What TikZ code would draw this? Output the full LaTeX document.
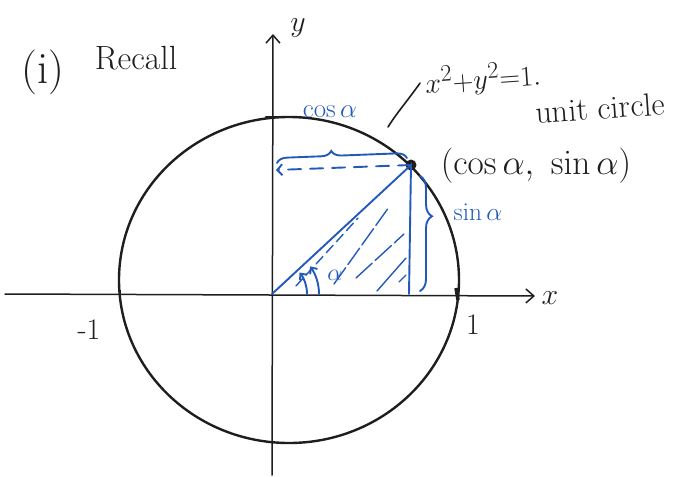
\documentclass[tikz,border=0pt]{standalone}
\usetikzlibrary{arrows.meta,decorations.pathreplacing}
\definecolor{pen}{RGB}{35,90,185}
\definecolor{ink}{RGB}{30,30,30}
\tikzset{
  inkline/.style={ink, line width=2.4pt, line cap=round},
  axisline/.style={ink, line width=1.5pt, line cap=round},
  penline/.style={pen, line width=1.9pt, line cap=round},
  hatchline/.style={pen, line width=1.4pt, line cap=round},
  label/.style={inner sep=0pt, ink},
  bluelabel/.style={inner sep=0pt, pen},
  barb/.style={-{Straight Barb[length=8pt,width=14pt]}},
}
\newcommand{\sz}[2]{\scalebox{#1}{\Huge #2}}
\begin{document}
\begin{tikzpicture}[x=1pt,y=-1pt]
\useasboundingbox (0,0) rectangle (673,477);
% coordinates
\coordinate (O) at (272,294);
\coordinate (xs) at (5,294);
\coordinate (xe) at (535,296);
\coordinate (ys) at (272,475);
\coordinate (ye) at (273,34);
\coordinate (Q) at (409,294);
\coordinate (Yl) at (276,170);
\coordinate (C) at (289,280);
\coordinate (lead) at (388,127);
% axes
\draw[axisline, barb] (xs) -- (xe);
\draw[axisline, barb] (ys) -- (ye);
% circle
\draw[inkline] (C) ellipse [x radius=170, y radius=163];
% ticks
\draw[inkline] (266,117) -- (278,117);
\draw[ink, line width=3.5pt] (456,288) -- (458,300);
\draw[ink, line width=1.5pt] (120,290) -- (120,298);
% point
\node[circle, fill=ink, inner sep=0pt, minimum size=11pt] (pt) at (411,165) {};
% blue triangle
\draw[penline] (O) -- (pt.center) -- (Q);
\draw[penline, dash pattern=on 13pt off 9pt, -{Straight Barb[length=5pt,width=11pt]}] (pt.center) -- (Yl);
% hatching
\draw[hatchline, dash pattern=on 10pt off 5pt] (296,286) -- (358,218);
\draw[hatchline, dash pattern=on 20pt off 4pt] (334,284) -- (389,207);
\draw[hatchline, dash pattern=on 22pt off 4pt] (356,278) -- (404,234);
\draw[hatchline] (377,291) -- (406,258);
\draw[hatchline] (399,282) -- (406,275);
% angle arcs
\draw[penline, -{Straight Barb[length=5pt,width=9pt]}] (O) ++(35,0) arc[start angle=0, end angle=-38, radius=35];
\draw[penline, -{Straight Barb[length=5pt,width=9pt]}] (O) ++(47,0) arc[start angle=0, end angle=-36, radius=47];
\node[bluelabel] (alpha) at (335,275) {\sz{0.96}{$\alpha$}};
% braces
\draw[penline, decorate, decoration={brace, amplitude=10pt, aspect=0.42}] (277,163) -- (407,158);
\node[bluelabel] (coslab) at (330,112) {\sz{1.08}{$\cos\alpha$}};
\draw[penline, decorate, decoration={brace, amplitude=12pt, aspect=0.35}] (420,176) -- (420,291);
\node[bluelabel] (sinlab) at (478,212) {\sz{1.02}{$\sin\alpha$}};
% labels
\node[label] (num) at (43,72) {\sz{1.8}{(i)}};
\node[label] (recall) at (136,58) {\sz{1.35}{Recall}};
\node[label] (ylab) at (298,28) {\sz{1.2}{$y$}};
\node[label] (xlab) at (550,298) {\sz{1.2}{$x$}};
\node[label] (m1) at (89,330) {\sz{1.2}{-1}};
\node[label] (p1) at (473,325) {\sz{1.2}{1}};
\node[label, rotate=4] (eq) at (483,79) {\sz{1.15}{$x^2{+}y^2{=}1.$}};
\node[label, rotate=4] (uc) at (600,108) {\sz{1.3}{unit circle}};
\node[label] (ptlab) at (536,166) {\sz{1.42}{$(\cos\alpha,\ \sin\alpha)$}};
% leader
\draw[ink, line width=1.6pt, line cap=round] (lead) .. controls (396,114) and (405,104) .. ([xshift=-5pt]eq.west);
\end{tikzpicture}
\end{document}
